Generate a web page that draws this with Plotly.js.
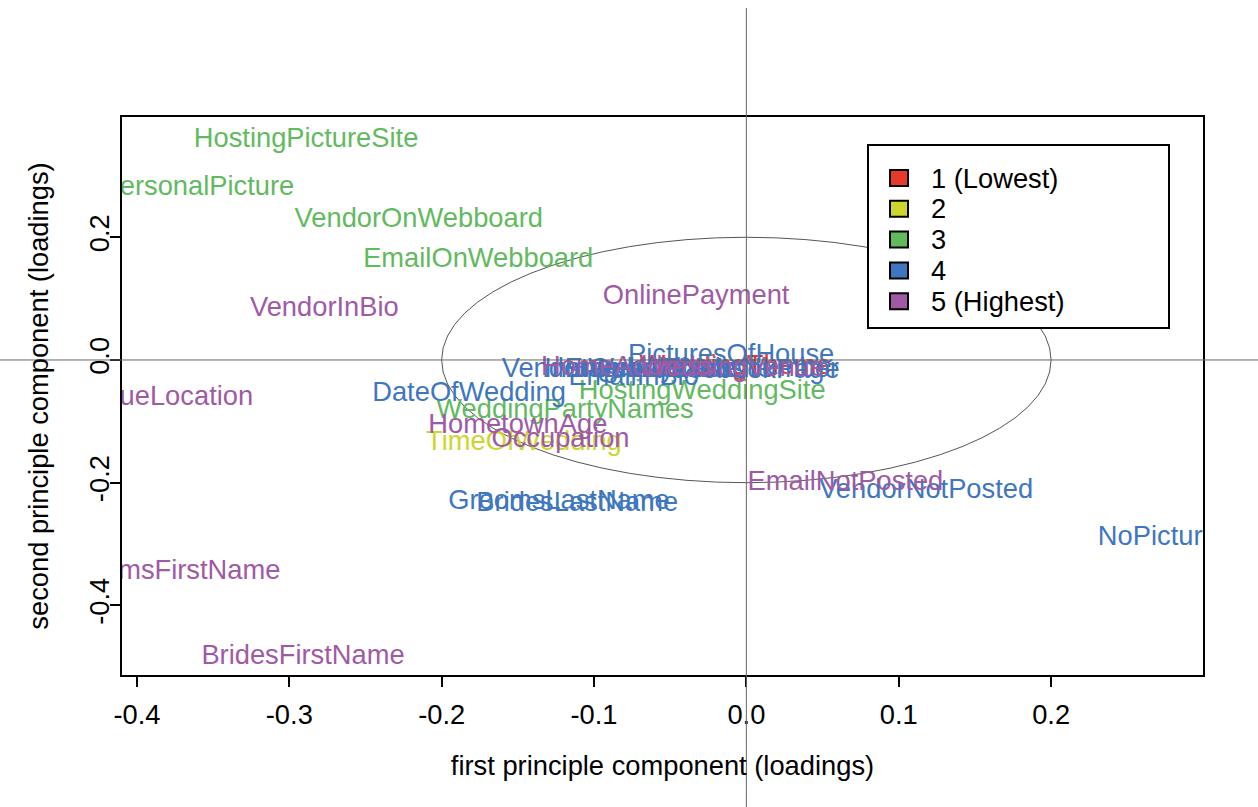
<!DOCTYPE html>
<html>
<head>
<meta charset="utf-8">
<script src="https://cdn.plot.ly/plotly-3.0.1.min.js"></script>
<style>html,body{margin:0;padding:0;background:#fff;}#chart{width:1258px;height:807px;}</style>
</head>
<body>
<div id="chart"></div>
<script>
// Variable names, their PCA loadings (PC1, PC2) and sensitivity rating (1..5)
const labels = [
  "HostingPictureSite","PersonalPicture","VendorOnWebboard","EmailOnWebboard",
  "VendorInBio","OnlinePayment","PicturesOfHouse","DateOfWedding","HostingWeddingSite",
  "WeddingPartyNames","HometownAge","Occupation","TimeOfWedding","VenueLocation",
  "GroomsFirstName","BridesFirstName","GroomsLastName","BridesLastName","EmailNotPosted",
  "VendorNotPosted","NoPicture","EmailInBio","VendorWebsite","HomeAddress","InstagramName",
  "EmailAddress","QualityWebsite","WeddingTheme","WeddingVenue","PhoneNumber","FacebookPage"
];
const pc1 = [
  -0.289,-0.360,-0.215,-0.176,
  -0.277,-0.033,-0.010,-0.182,-0.029,
  -0.119,-0.150,-0.122,-0.146,-0.383,
  -0.379,-0.291,-0.123,-0.111,0.065,
  0.118,0.270,-0.074,-0.100,-0.078,-0.069,
  -0.064,-0.043,-0.007,-0.009,0.003,0.001
];
const pc2 = [
  0.358,0.280,0.228,0.162,
  0.082,0.102,0.007,-0.055,-0.053,
  -0.084,-0.108,-0.130,-0.136,-0.063,
  -0.346,-0.485,-0.231,-0.235,-0.201,
  -0.214,-0.291,-0.029,-0.016,-0.014,-0.017,
  -0.016,-0.016,-0.012,-0.015,-0.017,-0.018
];
const rating = [
  3,3,3,3,
  5,5,4,4,3,
  3,5,5,2,5,
  5,5,4,4,5,
  4,4,4,4,5,4,
  4,4,1,5,4,4
];
const levelNames = ["1 (Lowest)","2","3","4","5 (Highest)"];
const levelColors = ["#E8392B","#CCD62E","#62BA5F","#3E77BF","#A05AA5"];
const xTicks = [-0.4,-0.3,-0.2,-0.1,0.0,0.1,0.2];
const xTickText = ["-0.4","-0.3","-0.2","-0.1","0.0","0.1","0.2"];
const yTicks = [0.2,0.0,-0.2,-0.4];
const yTickText = ["0.2","0.0","-0.2","-0.4"];
const circleRadius = 0.2;

const xRange = [-0.4098, 0.2997];
const yRange = [-0.5134, 0.396];
const FONT = "Liberation Sans, Arial, Helvetica, sans-serif";
const FS = 27.3;

// plot area in pixels (for legend placement in paper units)
const W = 1258, H = 807, ML = 122, MR = 55, MT = 117, MB = 132;
const PW = W - ML - MR, PH = H - MT - MB;
const px = v => (v - ML) / PW;
const py = v => (H - MB - v) / PH;

const traces = [];
for (let lv = 1; lv <= 5; lv++) {
  const idx = labels.map((_, i) => i).filter(i => rating[i] === lv);
  traces.push({
    type: "scatter", mode: "text",
    x: idx.map(i => pc1[i]), y: idx.map(i => pc2[i]), text: idx.map(i => labels[i]),
    textposition: "middle center",
    textfont: {family: FONT, size: FS, color: levelColors[lv - 1]},
    showlegend: false, hoverinfo: "text", cliponaxis: true
  });
}

const zx = (0 - xRange[0]) / (xRange[1] - xRange[0]);
const zy = (0 - yRange[0]) / (yRange[1] - yRange[0]);

const shapes = [
  {type: "line", xref: "paper", yref: "paper", x0: zx, x1: zx, y0: py(H), y1: py(8),
   line: {color: "#666", width: 1}, layer: "above"},
  {type: "line", xref: "paper", yref: "paper", x0: px(0), x1: px(W), y0: zy, y1: zy,
   line: {color: "#666", width: 1}, layer: "above"},
  {type: "circle", xref: "x", yref: "y", x0: -circleRadius, x1: circleRadius,
   y0: -circleRadius, y1: circleRadius, line: {color: "#555", width: 1}, layer: "below"},
  // legend box
  {type: "rect", xref: "paper", yref: "paper", x0: px(868), x1: px(1169), y0: py(328), y1: py(145),
   line: {color: "#000", width: 2}, fillcolor: "#fff", layer: "above"}
];
const annotations = [];
levelNames.forEach((nm, k) => {
  const cy = 178 + 30.8 * k;
  shapes.push({type: "rect", xref: "paper", yref: "paper",
    x0: px(890), x1: px(908), y0: py(cy + 8), y1: py(cy - 8),
    line: {color: "#000", width: 2}, fillcolor: levelColors[k], layer: "above"});
  annotations.push({xref: "paper", yref: "paper", x: px(929), y: py(cy), xanchor: "left", yanchor: "middle",
    text: nm, showarrow: false, font: {family: FONT, size: FS, color: "#000"}});
});

const layout = {
  width: W, height: H,
  margin: {l: ML, r: MR, t: MT, b: MB, pad: 0},
  paper_bgcolor: "#fff", plot_bgcolor: "#fff",
  font: {family: FONT, size: FS, color: "#000"},
  showlegend: false,
  xaxis: {
    range: xRange, autorange: false, showgrid: false, zeroline: false,
    showline: true, mirror: true, linecolor: "#000", linewidth: 2,
    ticks: "outside", ticklen: 10, tickwidth: 2, tickcolor: "#000",
    tickvals: xTicks, ticktext: xTickText, ticklabelstandoff: 4,
    tickfont: {family: FONT, size: FS},
    title: {text: "first principle component (loadings)", font: {family: FONT, size: FS}, standoff: 27}
  },
  yaxis: {
    range: yRange, autorange: false, showgrid: false, zeroline: false,
    showline: true, mirror: true, linecolor: "#000", linewidth: 2,
    ticks: "outside", ticklen: 10, tickwidth: 2, tickcolor: "#000",
    tickvals: yTicks, ticktext: yTickText, tickangle: -90, ticklabelstandoff: -10,
    tickfont: {family: FONT, size: FS},
    title: {text: "second principle component (loadings)", font: {family: FONT, size: FS}, standoff: 28}
  },
  shapes: shapes,
  annotations: annotations
};

Plotly.newPlot("chart", traces, layout, {staticPlot: true, displayModeBar: false});
</script>
</body>
</html>
